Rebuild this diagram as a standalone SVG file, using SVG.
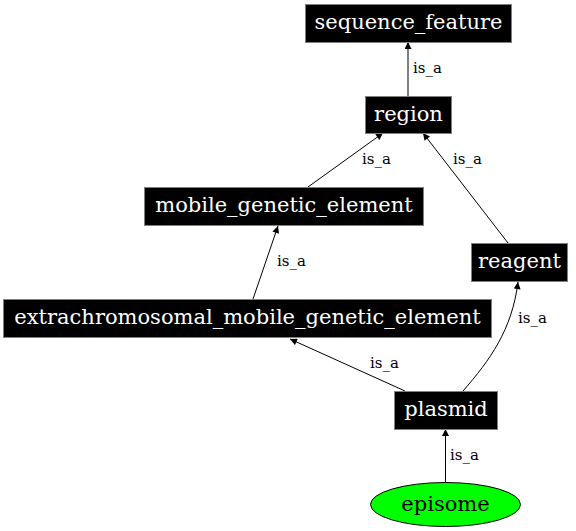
<svg xmlns="http://www.w3.org/2000/svg" width="576" height="531" viewBox="0 0 576 531">
<style>
.box{fill:#000;stroke:#808080;stroke-width:1}
.nt{font-family:"DejaVu Serif",serif;font-size:21px;fill:#fff;text-anchor:middle}
.el{font-family:"DejaVu Serif",serif;font-size:15px;fill:#000}
.edge{fill:none;stroke:#000;stroke-width:1}
</style>
<defs>
<marker id="arr" viewBox="0 0 10 10" refX="10" refY="5" markerWidth="10" markerHeight="7" markerUnits="userSpaceOnUse" orient="auto">
<path d="M0,0 L10,5 L0,10 z" fill="#000"/>
</marker>
</defs>
<rect width="576" height="531" fill="#fff"/>
<g id="connectors">
<path class="edge" d="M408,96 L408,42" marker-end="url(#arr)"/>
<text class="el" x="413" y="73">is_a</text>
<path class="edge" d="M308,187 L383,133" marker-end="url(#arr)"/>
<text class="el" x="362" y="164">is_a</text>
<path class="edge" d="M508,243 L423,133" marker-end="url(#arr)"/>
<text class="el" x="453" y="164">is_a</text>
<path class="edge" d="M253,299 L278,226" marker-end="url(#arr)"/>
<text class="el" x="277" y="266">is_a</text>
<path class="edge" d="M405,391 L290,339" marker-end="url(#arr)"/>
<text class="el" x="370" y="368">is_a</text>
<path class="edge" d="M463,391 C490,360 512,330 518,282" marker-end="url(#arr)"/>
<text class="el" x="518" y="323">is_a</text>
<path class="edge" d="M445.5,483 L445.5,429" marker-end="url(#arr)"/>
<text class="el" x="450" y="460">is_a</text>
</g>
<g id="sequence_feature">
<rect class="box" x="305.5" y="4.5" width="206" height="38"/>
<text class="nt" x="408.5" y="29">sequence_feature</text>
</g>
<g id="region">
<rect class="box" x="365.5" y="96.5" width="86" height="37"/>
<text class="nt" x="408.5" y="120.5">region</text>
</g>
<g id="mobile_genetic_element">
<rect class="box" x="144.5" y="187.5" width="279" height="38"/>
<text class="nt" x="284" y="212">mobile_genetic_element</text>
</g>
<g id="reagent">
<rect class="box" x="471.5" y="243.5" width="96" height="38"/>
<text class="nt" x="519.5" y="268">reagent</text>
</g>
<g id="extrachromosomal_mobile_genetic_element">
<rect class="box" x="3.5" y="299.5" width="488" height="38"/>
<text class="nt" x="247.5" y="324">extrachromosomal_mobile_genetic_element</text>
</g>
<g id="plasmid">
<rect class="box" x="394.5" y="391.5" width="103" height="38"/>
<text class="nt" x="446" y="416">plasmid</text>
</g>
<g id="episome">
<ellipse cx="445.5" cy="504.5" rx="75" ry="22" fill="#00ff00" stroke="#000" stroke-width="1"/>
<text class="nt" x="445.5" y="511" style="fill:#000">episome</text>
</g>
</svg>
